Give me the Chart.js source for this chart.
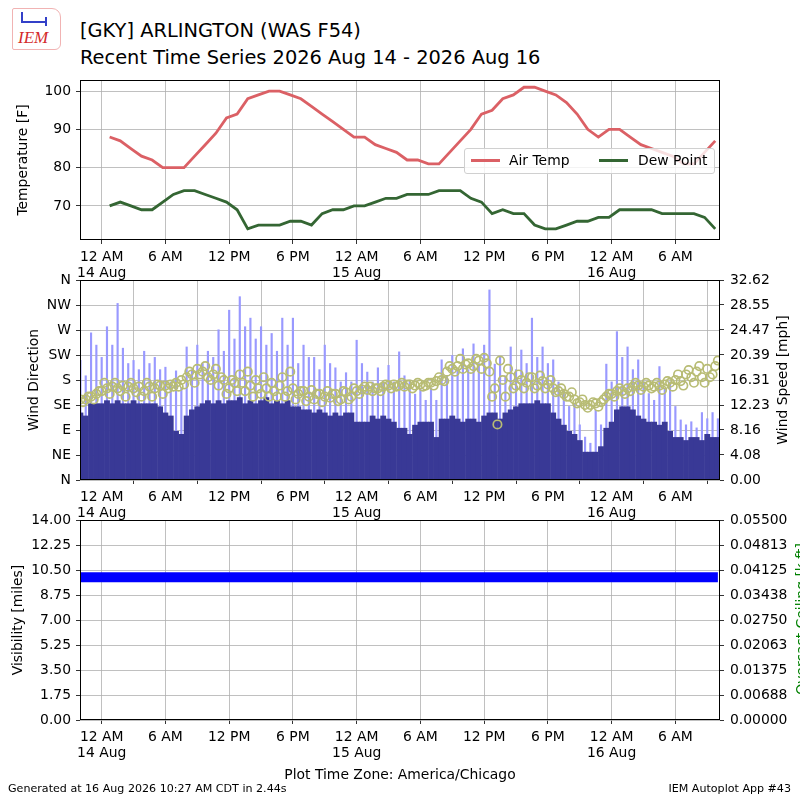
<!DOCTYPE html>
<html>
<head>
<meta charset="utf-8">
<script src="https://cdn.jsdelivr.net/npm/chart.js@4.4.1/dist/chart.umd.min.js"></script>
<style>
body { margin: 0; background: #fff; }
#wrap { position: relative; width: 800px; height: 800px; overflow: hidden; font-family: 'DejaVu Sans', sans-serif; color: #000; }
canvas { position: absolute; left: 0; }
.txt { position: absolute; white-space: nowrap; }
.vlab { position: absolute; white-space: nowrap; font-size: 13.9px; line-height: 16px; transform: translate(-50%, -50%) rotate(-90deg); }
#legend { position: absolute; left: 464px; top: 148px; width: 249px; height: 24px; background: rgba(255,255,255,0.8); border: 1px solid #d0d0d0; border-radius: 3px; font-size: 13.9px; }
#legend .ln { position: absolute; top: 10px; height: 3px; width: 29px; }
#legend .lt { position: absolute; top: 3px; line-height: 17px; }
#logo { position: absolute; left: 12px; top: 8px; width: 47px; height: 40px; border: 1px solid #f1b3b3; border-radius: 2px 9px 6px 2px; }
</style>
</head>
<body>
<div id="wrap">
    <div id="logo">
        <div class="txt" style="left:5px; top:19px; font-family:'Liberation Serif', serif; font-style:italic; font-size:17px; color:#d42a2a;">IEM</div>
        <div class="txt" style="left:10px; top:12px; width:24px; height:2px; background:#3340c8;"></div>
        <div class="txt" style="left:32px; top:8px; width:2px; height:9px; background:#3340c8;"></div>
        <div class="txt" style="left:8px; top:3px; width:2px; height:11px; background:#3340c8;"></div>
    </div>
    <div class="txt" style="left:80px; top:19px; font-size:19.4px; line-height:24px;">[GKY] ARLINGTON (WAS F54)</div>
    <div class="txt" style="left:80px; top:46px; font-size:19.4px; line-height:24px;">Recent Time Series 2026 Aug 14 - 2026 Aug 16</div>

    <canvas id="tempChart" width="800" height="225" style="top:60px"></canvas>
    <canvas id="windChart" width="800" height="270" style="top:260px"></canvas>
    <canvas id="visChart" width="800" height="270" style="top:500px"></canvas>

    <div id="legend">
        <div class="ln" style="left:6px; background:#db6065;"></div>
        <div class="lt" style="left:44px;">Air Temp</div>
        <div class="ln" style="left:134px; background:#346633;"></div>
        <div class="lt" style="left:173px;">Dew Point</div>
    </div>

    <div class="vlab" style="left:22px; top:160px;">Temperature [F]</div>
    <div class="vlab" style="left:33px; top:380px;">Wind Direction</div>
    <div class="vlab" style="left:782px; top:380px;">Wind Speed [mph]</div>
    <div class="vlab" style="left:17px; top:620px;">Visibility [miles]</div>
    <div class="vlab" style="left:801px; top:619px; color:#008000;">Overcast Ceiling [k ft]</div>

    <div class="txt" style="left:0; width:800px; text-align:center; top:765px; font-size:13.9px; line-height:18px;">Plot Time Zone: America/Chicago</div>
    <div class="txt" style="left:8px; top:782px; font-size:11.1px; line-height:14px;">Generated at 16 Aug 2026 10:27 AM CDT in 2.44s</div>
    <div class="txt" style="right:9px; top:782px; font-size:11.1px; line-height:14px;">IEM Autoplot App #43</div>
</div>
<script>
// hours since 14 Aug 00:00 (America/Chicago)
const xMin = -2.04
const xMax = 58.2
const xTickHours = [0, 6, 12, 18, 24, 30, 36, 42, 48, 54]
const xTickLabels = [['12 AM', '14 Aug'], '6 AM', '12 PM', '6 PM', ['12 AM', '15 Aug'], '6 AM', '12 PM', '6 PM', ['12 AM', '16 Aug'], '6 AM']

// hourly obs, first at 00:45 14 Aug
const tempStartHour = 0.75
const airTemp = [88, 87, 85, 83, 82, 80, 80, 80, 83, 86, 89, 93, 94, 98, 99, 100, 100, 99, 98, 96,
    94, 92, 90, 88, 88, 86, 85, 84, 82, 82, 81, 81, 84, 87, 90, 94, 95, 98, 99, 101,
    101, 100, 99, 97, 94, 90, 88, 90, 90, 88, 86, 85, 84, 83, 81, 81, 84, 87]
const dewPoint = [70, 71, 70, 69, 69, 71, 73, 74, 74, 73, 72, 71, 69, 64, 65, 65, 65, 66, 66, 65,
    68, 69, 69, 70, 70, 71, 72, 72, 73, 73, 73, 74, 74, 74, 72, 71, 68, 69, 68, 68,
    65, 64, 64, 65, 66, 66, 67, 67, 69, 69, 69, 69, 68, 68, 68, 68, 67, 64]
const tempTicks = [70, 80, 90, 100]

// half hourly wind, first at 22:00 13 Aug
const windStartHour = -2
const windStep = 0.5
const windSpeed = [11, 10.5, 12.5, 12.5,
    12.5, 13, 12.5, 13, 12.5, 12.5, 13, 12.5, 12.5, 12.5,
    12.5, 12, 11, 10.5, 8, 7.5, 10.5, 11.5, 12, 12.5,
    13, 12.5, 13, 12.5, 13, 13, 13.5, 12.5, 13, 12.5,
    13, 13.5, 12.5, 13, 12.5, 13, 12, 12, 11.5, 11.5,
    11, 11.5, 11, 10.5, 11, 10.5, 11, 11, 9.5, 9.5,
    9.5, 10.5, 10, 10.5, 10, 9.5, 8.5, 8.5, 7.5, 9,
    9.5, 9.5, 9.5, 7, 10, 10, 10.5, 10, 9.5, 10,
    10, 9.5, 10.5, 11, 11, 10, 11, 11.5, 12, 12.5,
    12.5, 12.5, 13, 12.5, 12.5, 11, 10, 9, 8, 7.5,
    6.5, 4.6, 4.6, 4.6, 5.5, 8.5, 9.5, 11.5, 12, 12,
    11.5, 10.5, 10, 9.5, 9.5, 9, 9.5, 8, 7, 7,
    6.5, 7, 7, 6.5, 7.5, 7, 7]
const windGust = [19.5, 17, 24, 22,
    20, 25, 22, 28.8, 21.5, 19, 19.5, 18, 21, 19,
    20, 18, 18.4, 16, 17.8, 15, 21.7, 18, 22, 19,
    21, 20, 24.5, 21, 27.7, 23, 29.9, 25, 26.4, 23,
    25, 22, 23.9, 21, 26.4, 22, 26.4, 19, 22, 20,
    20, 18, 22, 19, 18.3, 16, 17.5, 16, 22.8, 19,
    17.6, 16, 18.3, 16, 18.7, 16, 20.9, 17, 16.3, 14,
    15, 13, 15, 13, 19.6, 17, 20.3, 18, 21.4, 18,
    22.2, 19, 22, 31, 18.9, 20.1, 17, 21.7, 18, 21.2,
    19, 26.4, 20, 21.7, 19, 19.6, 16, 14.7, 12, 12.5,
    9, 7, 6, 11.4, 9, 18.9, 16, 24.2, 20, 21.7,
    18, 19.6, 16, 14.1, 13, 18.5, 15, 16, 12, 9.8,
    9, 9.5, 8.5, 11, 10, 11, 10]
const windDir = [145, 145, 150, 155,
    160, 165, 168, 165, 170, 168, 165, 168, 160, 168,
    165, 170, 170, 172, 175, 180, 185, 190, 200, 195,
    185, 190, 170, 180, 165, 175, 190, 160, 170, 180,
    155, 165, 175, 150, 185, 160, 165, 155, 160, 150,
    145, 155, 150, 148, 155, 145, 158, 150, 160, 163,
    162, 160, 165, 168, 170, 172, 170, 168, 172, 170,
    172, 170, 175, 178, 180, 195, 200, 205, 200, 210,
    205, 215, 220, 195, 165, 215, 150, 185, 170, 180,
    175, 185, 170, 178, 172, 165, 160, 155, 150, 145,
    140, 135, 135, 138, 140, 150, 155, 160, 160, 165,
    168, 170, 168, 170, 168, 170, 172, 175, 180, 178,
    190, 185, 195, 185, 200, 190, 215]
// second direction sample in each half hour, first at 22:15 13 Aug
const windDir2StartHour = -1.75
const windDir2 = [140, 150, 145, 160,
    175, 155, 175, 160, 150, 175, 158, 150, 175, 150,
    172, 155, 165, 168, 168, 172, 195, 175, 190, 205,
    180, 200, 185, 155, 180, 160, 175, 195, 150, 165,
    185, 150, 160, 170, 150, 195, 145, 160, 142, 162,
    155, 140, 160, 155, 142, 160, 145, 165, 155, 168,
    168, 165, 160, 172, 165, 168, 175, 172, 165, 175,
    168, 175, 170, 185, 178, 205, 195, 218, 208, 200,
    218, 200, 210, 150, 100, 180, 200, 165, 190, 165,
    185, 165, 188, 165, 180, 158, 165, 150, 158, 138,
    145, 130, 140, 132, 145, 155, 150, 165, 155, 160,
    175, 162, 175, 165, 175, 162, 178, 168, 190, 170,
    198, 175, 205, 175, 185, 205]
const dirTicks = [0, 45, 90, 135, 180, 225, 270, 315, 360]
const dirLabels = ['N', 'NE', 'E', 'SE', 'S', 'SW', 'W', 'NW', 'N']
const speedTicks = [0, 4.08, 8.16, 12.23, 16.31, 20.39, 24.47, 28.55, 32.62]

// hourly visibility, first at 22:00 13 Aug
const visStartHour = -2
const visibility = [10, 10, 10, 10, 10, 10, 10, 10, 10, 10, 10, 10, 10, 10, 10, 10, 10, 10, 10, 10,
    10, 10, 10, 10, 10, 10, 10, 10, 10, 10, 10, 10, 10, 10, 10, 10, 10, 10, 10, 10,
    10, 10, 10, 10, 10, 10, 10, 10, 10, 10, 10, 10, 10, 10, 10, 10, 10, 10, 10, 10, 10]
const visTicks = [0, 1.75, 3.5, 5.25, 7, 8.75, 10.5, 12.25, 14]
const ceilTicks = [0, 0.006875, 0.01375, 0.020625, 0.0275, 0.034375, 0.04125, 0.048125, 0.055]
const ceilLabels = ['0.00000', '0.00688', '0.01375', '0.02063', '0.02750', '0.03438', '0.04125', '0.04813', '0.05500']

Chart.defaults.font.family = "'DejaVu Sans', sans-serif"
Chart.defaults.font.size = 13.9
Chart.defaults.color = '#000'
Chart.defaults.animation = false

const framePlugin = {
    id: 'frame',
    afterDraw(chart) {
        const a = chart.chartArea
        const ctx = chart.ctx
        ctx.save()
        ctx.strokeStyle = '#000'
        ctx.lineWidth = 1
        ctx.strokeRect(Math.round(a.left) + 0.5, Math.round(a.top) + 0.5, Math.round(a.right - a.left) - 1, Math.round(a.bottom - a.top) - 1)
        ctx.restore()
    }
}

function pts(start, step, values) {
    return values.map((v, i) => ({ x: start + i * step, y: v }))
}

function timeAxis(xHeight, z) {
    return {
        type: 'linear', min: xMin, max: xMax, offset: false, z: z,
        grid: { color: '#b0b0b0', lineWidth: 0.8, tickColor: '#000', tickLength: 4 },
        border: { display: false },
        afterBuildTicks: (s) => { s.ticks = xTickHours.map(v => ({ value: v })) },
        afterFit: (s) => { s.height = xHeight },
        ticks: { autoSkip: false, maxRotation: 0, minRotation: 0, padding: 5, font: { lineHeight: 1.17 }, callback: (v, i) => xTickLabels[i] }
    }
}

function valueAxis(pos, min, max, tickVals, labels, onChart, z) {
    return {
        type: 'linear', position: pos, min: min, max: max, z: z,
        grid: { color: '#b0b0b0', lineWidth: 0.8, tickColor: '#000', tickLength: 4, drawOnChartArea: onChart },
        border: { display: false },
        afterBuildTicks: (s) => { s.ticks = tickVals.map(v => ({ value: v })) },
        afterFit: (s) => { s.width = 80 },
        ticks: { padding: pos === 'left' ? 5 : 6, callback: (v, i) => labels[i] }
    }
}

const noPlugins = { legend: { display: false }, tooltip: { enabled: false } }

new Chart(document.getElementById('tempChart'), {
    type: 'line',
    data: {
        datasets: [
            { label: 'Air Temp', data: pts(tempStartHour, 1, airTemp), borderColor: '#db6065', borderWidth: 2.8, pointRadius: 0, tension: 0 },
            { label: 'Dew Point', data: pts(tempStartHour, 1, dewPoint), borderColor: '#346633', borderWidth: 2.8, pointRadius: 0, tension: 0 }
        ]
    },
    options: {
        responsive: false,
        layout: { padding: { top: 20, right: 80 } },
        scales: {
            x: timeAxis(45, 0),
            y: valueAxis('left', 61.1, 102.9, tempTicks, tempTicks.map(String), true, 0)
        },
        plugins: noPlugins
    },
    plugins: [framePlugin]
})

const dirPoint = { yAxisID: 'y', showLine: false, pointRadius: 4.2, pointBorderWidth: 1.7,
    pointBackgroundColor: 'rgba(0,0,0,0)', pointBorderColor: '#b8bc74', order: 0 }

new Chart(document.getElementById('windChart'), {
    type: 'bar',
    data: {
        datasets: [
            Object.assign({ type: 'line', label: 'Wind Direction', data: pts(windStartHour, windStep, windDir) }, dirPoint),
            Object.assign({ type: 'line', label: 'Wind Direction 2', data: pts(windDir2StartHour, windStep, windDir2) }, dirPoint),
            { label: 'Wind Speed', data: pts(windStartHour, windStep, windSpeed), yAxisID: 'y2', backgroundColor: '#393996',
              barPercentage: 1.1, categoryPercentage: 1, grouped: false, order: 1 },
            { label: 'Wind Gust', data: pts(windStartHour, windStep, windGust), yAxisID: 'y2', backgroundColor: '#9999ff',
              barThickness: 1.5, grouped: false, order: 2 }
        ]
    },
    options: {
        responsive: false,
        layout: { padding: { top: 20 } },
        scales: {
            x: timeAxis(50, 1),
            y: valueAxis('left', 0, 360, dirTicks, dirLabels, true, 1),
            y2: valueAxis('right', 0, 32.62, speedTicks, speedTicks.map(v => v.toFixed(2)), false, 1)
        },
        plugins: noPlugins
    },
    plugins: [framePlugin]
})

new Chart(document.getElementById('visChart'), {
    type: 'line',
    data: {
        datasets: [
            { label: 'Visibility', data: pts(visStartHour, 1, visibility), yAxisID: 'y', borderColor: '#0000ff', borderWidth: 10, borderCapStyle: 'butt', pointRadius: 0 }
        ]
    },
    options: {
        responsive: false,
        layout: { padding: { top: 20 } },
        scales: {
            x: timeAxis(50, 1),
            y: valueAxis('left', 0, 14, visTicks, visTicks.map(v => v.toFixed(2)), true, 1),
            y2: valueAxis('right', 0, 0.055, ceilTicks, ceilLabels, false, 1)
        },
        plugins: noPlugins
    },
    plugins: [framePlugin]
})
</script>
</body>
</html>
